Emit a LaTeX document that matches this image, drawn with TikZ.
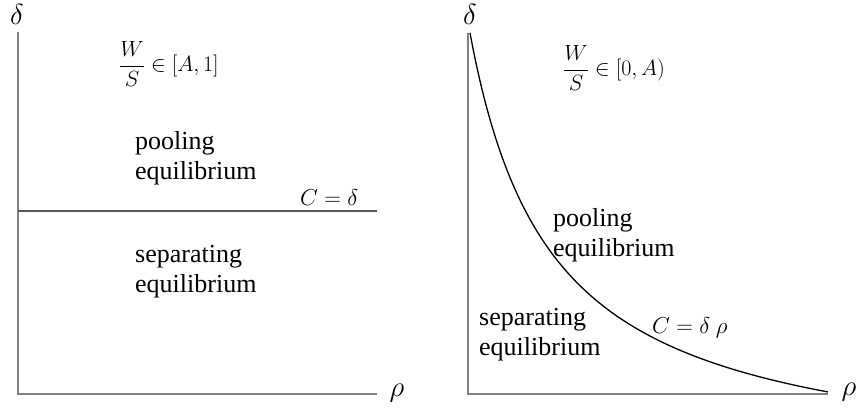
\RequirePackage{fix-cm}
\documentclass[tikz,border=0pt]{standalone}
\usepackage{fontspec}
\setmainfont{Liberation Serif}
\tikzset{
  axis/.style={line width=1.6pt, draw=gray},
  regtext/.style={font=\fontsize{26}{30}\selectfont, align=left, anchor=base west, inner sep=0pt},
  mathlbl/.style={font=\fontsize{22}{26}\selectfont, inner sep=0pt},
  axlbl/.style={font=\fontsize{29}{33}\selectfont, inner sep=0pt}
}
\begin{document}
\begin{tikzpicture}[x=1pt,y=-1pt]
        \useasboundingbox (0,0) rectangle (860,410);
        % left axes
        \coordinate (ltop) at (18,32);\coordinate (lorig) at (18,394);\coordinate (lend) at (377,394);
        \draw [axis] (ltop) -- (lorig) -- (lend);
        % C = delta line
        \coordinate (cleft) at (18,211);\coordinate (cright) at (377,211);
        \draw [line width=1.6pt, draw=black!65] (cleft) -- (cright);
        % right axes
        \coordinate (rtop) at (468,33);\coordinate (rorig) at (468,394);\coordinate (rend) at (828,394);
        \draw [axis] (rtop) -- (rorig) -- (rend);
        % C = delta rho curve
        \draw [line width=1.3pt, black] plot [smooth, domain=2:360, samples=120] ({468+\x},{474.2-361.82/(0.01*\x+0.8)});
        % axis letters
        \node [axlbl] (ldelta) at (17,14) {$\delta$};\node [axlbl] (lrho) at (397,393) {$\rho$};
        \node [axlbl] (rdelta) at (470,14) {$\delta$};\node [axlbl] (rrho) at (849,392) {$\rho$};
        % ratio labels
        \node [mathlbl, anchor=west] (lratio) at (119,64) {$\displaystyle\frac{W}{S}\in[A,1]$};
        \node [mathlbl, anchor=west] (rratio) at (563,68) {$\displaystyle\frac{W}{S}\in[0,A)$};
        % line labels
        \node [mathlbl, font=\fontsize{23}{27}\selectfont, anchor=base west] (lline) at (300,205) {$C=\delta$};
        \node [mathlbl, font=\fontsize{23}{27}\selectfont, anchor=base west] (rline) at (652,333) {$C=\delta\ \rho$};
        % regions
        \node [regtext] (lpool) at (135,179) {pooling\\equilibrium};
        \node [regtext] (lsep) at (135,292) {separating\\equilibrium};
        \node [regtext] (rpool) at (553,256) {pooling\\equilibrium};
        \node [regtext] (rsep) at (479,355) {separating\\equilibrium};
    \end{tikzpicture}
\end{document}
